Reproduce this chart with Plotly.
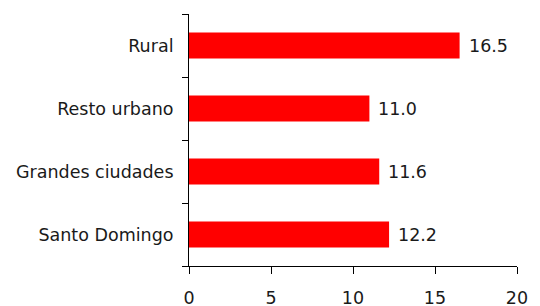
import plotly.graph_objects as go

categories = ["Santo Domingo", "Grandes ciudades", "Resto urbano", "Rural"]
values = [12.2, 11.6, 11.0, 16.5]
x_ticks = [0, 5, 10, 15, 20]

font = "DejaVu Sans"
fsize = 17.5
tcolor = "#1a1a1a"

fig = go.Figure(go.Bar(
    y=categories, x=values, orientation="h",
    marker=dict(color="#FF0000", line=dict(width=0)),
    width=0.41,
))

for c, v in zip(categories, values):
    fig.add_annotation(
        x=v, y=c, text=f"{v:.1f}", showarrow=False,
        xanchor="left", yanchor="middle", xshift=7,
        font=dict(family=font, size=fsize, color=tcolor),
    )

# page body has an 8px default margin, so the figure is offset by 8px
fig.update_layout(
    width=540, height=306,
    margin=dict(l=181, r=31, t=6, b=48, autoexpand=False),
    paper_bgcolor="white", plot_bgcolor="white",
    showlegend=False,
    font=dict(family=font, size=fsize, color=tcolor),
    xaxis=dict(
        range=[0, 20], tickvals=x_ticks, ticktext=[str(t) for t in x_ticks],
        showgrid=False, zeroline=False, automargin=False,
        showline=True, linecolor="black", linewidth=1,
        ticks="outside", ticklen=7, tickcolor="black", tickwidth=1,
        ticklabelstandoff=9,
        tickfont=dict(family=font, size=fsize, color=tcolor),
    ),
    yaxis=dict(
        categoryorder="array", categoryarray=categories,
        range=[-0.5, 3.5], automargin=False,
        showgrid=False, zeroline=False,
        showline=True, linecolor="black", linewidth=1,
        ticks="outside", tickson="boundaries", ticklen=6, tickcolor="black", tickwidth=1,
        ticklabelstandoff=11,
        tickfont=dict(family=font, size=fsize, color=tcolor),
    ),
)

fig.write_html("out.html")
